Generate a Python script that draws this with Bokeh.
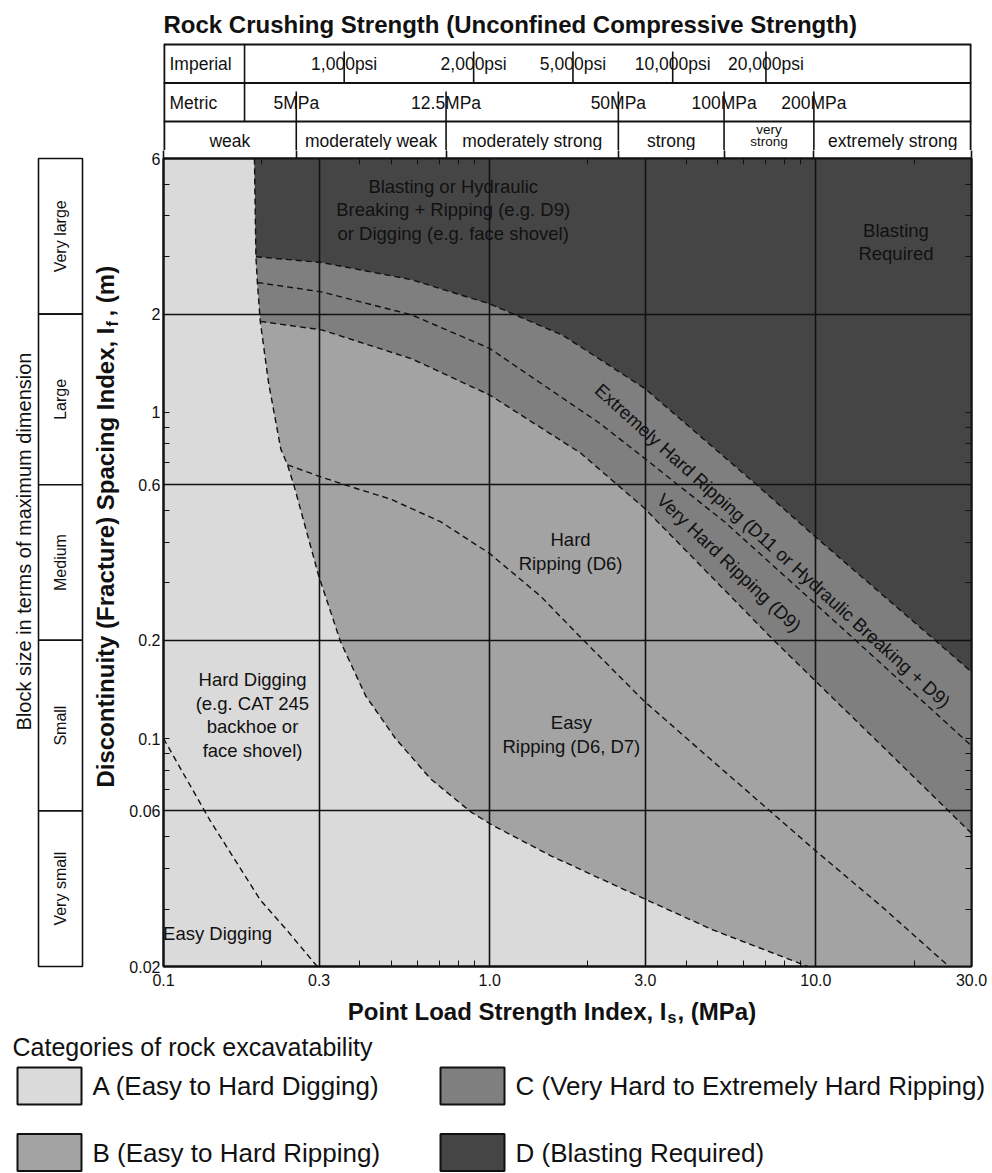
import math
from bokeh.plotting import figure
from bokeh.models import Range1d, FixedTicker, LogAxis, Spacer, LinearScale
from bokeh.layouts import column, row
from bokeh.embed import file_html
from bokeh.resources import INLINE
from bokeh.core.properties import value

# ---------------- data ----------------
x_ticks = [0.1, 0.3, 1.0, 3.0, 10.0, 30.0]
x_tick_labels = ["0.1", "0.3", "1.0", "3.0", "10.0", "30.0"]
x_minor = [0.2, 0.4, 0.5, 0.6, 0.7, 0.8, 0.9, 2.0, 4.0, 5.0, 6.0, 7.0, 8.0, 9.0, 20.0]
x_grid = [0.3, 1.0, 3.0, 10.0]

y_ticks = [6.0, 2.0, 1.0, 0.6, 0.2, 0.1, 0.06, 0.02]
y_tick_labels = ["6", "2", "1", "0.6", "0.2", "0.1", "0.06", "0.02"]
y_minor = [5.0, 4.0, 3.0, 0.9, 0.8, 0.7, 0.5, 0.4, 0.3, 0.09, 0.08, 0.07, 0.05, 0.04, 0.03]
y_grid = [2.0, 0.6, 0.2, 0.06]

# rock crushing strength scale, positions read on the Is axis
imperial_labels = ["1,000psi", "2,000psi", "5,000psi", "10,000psi", "20,000psi"]
imperial_is = [0.358, 0.893, 1.80, 3.64, 7.03]
metric_labels = ["5MPa", "12.5MPa", "50MPa", "100MPa", "200MPa"]
metric_is = [0.2553, 0.735, 2.48, 5.23, 9.86]
unit_split_is = 0.1772
strength_classes = ["weak", "moderately weak", "moderately strong", "strong",
                    "very\nstrong", "extremely strong"]

block_labels = ["Very large", "Large", "Medium", "Small", "Very small"]
block_edges = [6.0, 2.0, 0.6, 0.2, 0.06, 0.02]

# zone boundaries (Is, If)
ab_is = [0.19, 0.192, 0.194, 0.198, 0.21, 0.229, 0.24, 0.252, 0.299, 0.349, 0.4165, 0.515,
         0.659, 0.8745, 1.014, 1.539, 3.03, 4.83, 9.45]
ab_if = [6.0, 3.0, 2.5, 1.9, 1.23, 0.77, 0.69, 0.59, 0.3155, 0.198, 0.1352, 0.0998,
         0.0752, 0.0596, 0.0544, 0.0437, 0.032, 0.0259, 0.02]
dc_is = [0.192, 0.305, 0.576, 1.0, 1.68, 3.0, 6.45, 10.0, 23.2, 30.0]
dc_if = [3.0, 2.88, 2.55, 2.15, 1.72, 1.18, 0.61, 0.414, 0.2, 0.16]
mc_is = [0.194, 0.305, 0.576, 1.0, 2.16, 3.0, 5.27, 9.83, 30.0]
mc_if = [2.5, 2.34, 1.99, 1.57, 0.93, 0.72, 0.46, 0.262, 0.095]
cb_is = [0.198, 0.305, 0.576, 1.0, 1.9, 2.97, 7.43, 30.0]
cb_if = [1.9, 1.79, 1.46, 1.13, 0.75, 0.51, 0.2, 0.0512]
bb_is = [0.24, 0.305, 0.388, 0.497, 0.707, 1.0, 1.433, 1.902, 2.968, 4.439, 10.0, 15.82, 25.6]
bb_if = [0.69, 0.633, 0.585, 0.542, 0.462, 0.369, 0.273, 0.204, 0.1305, 0.0917, 0.0452, 0.0307, 0.02]
ed_is = [0.1, 0.139, 0.198, 0.24, 0.296]
ed_if = [0.1, 0.056, 0.032, 0.0257, 0.02]

zone_text = ["Blasting or Hydraulic\nBreaking + Ripping (e.g. D9)\nor Digging (e.g. face shovel)",
             "Blasting\nRequired", "Hard\nRipping (D6)", "Easy\nRipping (D6, D7)",
             "Hard Digging\n(e.g. CAT 245\nbackhoe or\nface shovel)", "Easy Digging"]
zone_is = [0.773, 17.6, 1.77, 1.78, 0.1875, 0.1465]
zone_if = [4.18, 3.33, 0.374, 0.103, 0.118, 0.0253]
band_text = ["Extremely Hard Ripping (D11 or Hydraulic Breaking + D9)", "Very Hard Ripping (D9)"]
band_is = [7.37, 5.42]
band_if = [0.390, 0.346]
band_angle = [-42.2, -43.6]

categories = ["A (Easy to Hard Digging)", "B (Easy to Hard Ripping)",
              "C (Very Hard to Extremely Hard Ripping)", "D (Blasting Required)"]

# ---------------- style ----------------
FONT = "Liberation Sans"
INK = "#111111"
FILL = ["#dadada", "#a3a3a3", "#7f7f7f", "#454545"]
FRAME = 808
x_min, x_max = x_ticks[0], x_ticks[-1]
y_min, y_max = y_ticks[-1], y_ticks[0]

# ---------------- main plot ----------------
p = figure(width=866, height=846, x_axis_type="log", y_axis_type="log",
           x_range=Range1d(x_min, x_max), y_range=Range1d(y_min, y_max),
           min_border_left=37, min_border_right=21, min_border_top=8, min_border_bottom=30,
           toolbar_location=None, output_backend="svg",
           background_fill_color=FILL[0], border_fill_color="white",
           outline_line_color=INK, outline_line_width=2)

k_cb = ab_is.index(cb_is[0])
k_dc = ab_is.index(dc_is[0])
p.patch(ab_is + [x_max, x_max], ab_if + [y_min, y_max], fill_color=FILL[1], line_color=None)
p.patch(ab_is[:k_cb] + cb_is + [x_max], ab_if[:k_cb] + cb_if + [y_max], fill_color=FILL[2], line_color=None)
p.patch(ab_is[:k_dc] + dc_is + [x_max], ab_if[:k_dc] + dc_if + [y_max], fill_color=FILL[3], line_color=None)

for xs, ys in [(ab_is, ab_if), (dc_is, dc_if), (mc_is, mc_if), (cb_is, cb_if), (bb_is, bb_if), (ed_is, ed_if)]:
    p.line(xs, ys, line_color=INK, line_width=1.4, line_dash="6 4", line_join="round")

p.text(x=zone_is, y=zone_if, text=zone_text, text_align="center", text_baseline="middle",
       text_font=value(FONT), text_font_size="18.5px", text_line_height=1.12, text_color=INK)
p.text(x=band_is, y=band_if, text=band_text, angle=[math.radians(a) for a in band_angle],
       text_align="center", text_baseline="middle",
       text_font=value(FONT), text_font_size="18.5px", text_color=INK)

for g, ticks in ((p.xgrid, x_grid), (p.ygrid, y_grid)):
    g.ticker = FixedTicker(ticks=ticks)
    g.grid_line_color = INK
    g.grid_line_width = 1.6
    g.level = "guide"

xa = p.xaxis[0]
xa.ticker = FixedTicker(ticks=x_ticks, minor_ticks=x_minor)
xa.major_label_overrides = dict(zip(x_ticks, x_tick_labels))
ya = p.yaxis[0]
ya.ticker = FixedTicker(ticks=y_ticks, minor_ticks=y_minor)
ya.major_label_overrides = dict(zip(y_ticks, y_tick_labels))
for ax, standoff in ((xa, 7), (ya, 3)):
    ax.major_tick_in = 6
    ax.major_tick_out = 0
    ax.minor_tick_in = 6
    ax.minor_tick_out = 0
    ax.major_label_standoff = standoff
    ax.major_label_text_font = FONT
    ax.major_label_text_font_size = "16px"
    ax.major_label_text_color = INK
    ax.axis_line_width = 2
    ax.axis_line_color = INK
    ax.major_tick_line_color = INK
    ax.minor_tick_line_color = INK

# top axis: inside minor ticks + lower ends of the strength-class separators
top_ticks = [x_min] + metric_is + [x_max]
top_ax = LogAxis(ticker=FixedTicker(ticks=top_ticks, minor_ticks=x_minor),
                 major_label_overrides={t: "" for t in top_ticks},
                 major_label_text_font_size="0px", major_label_standoff=0,
                 major_tick_in=0, major_tick_out=8, minor_tick_in=6, minor_tick_out=0,
                 major_tick_line_width=1.6, axis_line_width=2,
                 axis_line_color=INK, major_tick_line_color=INK, minor_tick_line_color=INK)
p.add_layout(top_ax, "above")
right_major = [v for v in y_ticks[1:-1] if v not in y_grid]
right_ax = LogAxis(ticker=FixedTicker(ticks=right_major, minor_ticks=y_minor),
                   major_label_overrides={t: "" for t in right_major},
                   major_label_text_font_size="0px", major_label_standoff=0,
                   major_tick_in=6, major_tick_out=0, minor_tick_in=6, minor_tick_out=0,
                   axis_line_width=2, axis_line_color=INK,
                   major_tick_line_color=INK, minor_tick_line_color=INK)
p.add_layout(right_ax, "right")

# ---------------- strength table (above) ----------------
t = figure(width=866, height=150, x_axis_type="log", x_range=p.x_range, y_range=Range1d(150, 0),
           x_axis_location=None, y_axis_location=None,
           min_border_left=37, min_border_right=21, min_border_top=0, min_border_bottom=0,
           toolbar_location=None, output_backend="svg", outline_line_color=None)
t.grid.visible = False
row_top, row1, row2, row_bot = 44, 82.5, 121, 150
t.segment(x0=[x_min] * 3, y0=[row_top, row1, row2], x1=[x_max] * 3, y1=[row_top, row1, row2],
          line_color=INK, line_width=1.8)
t.segment(x0=[x_min, x_max], y0=[row_top, row_top], x1=[x_min, x_max], y1=[row_bot, row_bot],
          line_color=INK, line_width=3.6)
t.segment(x0=[unit_split_is], y0=[row_top], x1=[unit_split_is], y1=[row2], line_color=INK, line_width=1.6)
t.segment(x0=imperial_is, y0=[51] * len(imperial_is), x1=imperial_is, y1=[row1] * len(imperial_is),
          line_color=INK, line_width=1.6)
t.segment(x0=metric_is, y0=[91] * len(metric_is), x1=metric_is, y1=[row_bot] * len(metric_is),
          line_color=INK, line_width=1.6)
tk = dict(text_font=value(FONT), text_color=INK, text_baseline="middle")
t.text(x=[x_min], y=[24], text=["Rock Crushing Strength (Unconfined Compressive Strength)"],
       text_align="left", text_font_size="24px", text_font_style="bold", **tk)
t.text(x=[x_min, x_min], y=[63, 102], text=["Imperial", "Metric"], x_offset=6,
       text_align="left", text_font_size="17.5px", **tk)
t.text(x=imperial_is, y=[63] * len(imperial_is), text=imperial_labels, text_align="center",
       text_font_size="17.5px", **tk)
t.text(x=metric_is, y=[102] * len(metric_is), text=metric_labels, text_align="center",
       text_font_size="17.5px", **tk)
edges = [x_min] + metric_is + [x_max]
mids = [math.sqrt(a * b) for a, b in zip(edges[:-1], edges[1:])]
one = [i for i, s in enumerate(strength_classes) if "\n" not in s]
two = [i for i, s in enumerate(strength_classes) if "\n" in s]
t.text(x=[mids[i] for i in one], y=[140] * len(one), text=[strength_classes[i] for i in one],
       text_align="center", text_font_size="17.5px", **tk)
t.text(x=[mids[i] for i in two], y=[134.5] * len(two), text=[strength_classes[i] for i in two],
       text_align="center", text_font_size="13.5px", text_line_height=0.8, **tk)

# ---------------- block-size column (left) ----------------
pad = 4
ext = 10 ** (pad * math.log10(y_max / y_min) / FRAME)
l = figure(width=126, height=842, y_axis_type="log", x_axis_type=None,
           x_range=Range1d(0, 126), y_range=Range1d(y_min / ext, y_max * ext),
           x_axis_location=None, y_axis_location=None,
           min_border_left=0, min_border_right=0, min_border_top=0, min_border_bottom=26,
           toolbar_location=None, output_backend="svg", outline_line_color=None)
l.grid.visible = False
l.extra_y_ranges = {"img": Range1d(start=970, end=154)}
l.extra_y_scales = {"img": LinearScale()}
nb = len(block_labels)
l.quad(left=[38] * nb, right=[82] * nb, top=block_edges[:-1], bottom=block_edges[1:],
       fill_color="white", line_color=INK, line_width=1.6)
l.text(x=[60] * nb, y=[math.sqrt(a * b) for a, b in zip(block_edges[:-1], block_edges[1:])],
       text=block_labels, angle=math.pi / 2, text_align="center", text_baseline="middle",
       text_font=value(FONT), text_font_size="16px", text_color=INK)
l.text(x=[23], y=[541], y_range_name="img", text=["Block size in terms of maximum dimension"],
       angle=math.pi / 2, text_align="center", text_baseline="middle",
       text_font=value(FONT), text_font_size="20px", text_color=INK)
yp = 327
l.text(x=[105], y=[yp], y_range_name="img", text=["Discontinuity (Fracture) Spacing Index, I"],
       angle=math.pi / 2, text_align="right", text_baseline="middle",
       text_font=value(FONT), text_font_size="24px", text_font_style="bold", text_color=INK)
l.text(x=[112], y=[yp - 1], y_range_name="img", text=["f"],
       angle=math.pi / 2, text_align="left", text_baseline="middle",
       text_font=value(FONT), text_font_size="16px", text_font_style="bold", text_color=INK)
l.text(x=[105], y=[yp - 11], y_range_name="img", text=[", (m)"],
       angle=math.pi / 2, text_align="left", text_baseline="middle",
       text_font=value(FONT), text_font_size="24px", text_font_style="bold", text_color=INK)

# ---------------- x title + legend (below) ----------------
lg = figure(width=992, height=176, x_range=Range1d(0, 992), y_range=Range1d(1172, 996),
            x_axis_type=None, y_axis_type=None, min_border=0,
            toolbar_location=None, output_backend="svg", outline_line_color=None)
lg.grid.visible = False
xp = 666
lk = dict(text_font=value(FONT), text_color=INK, text_baseline="middle")
lg.text(x=[xp], y=[1011], text=["Point Load Strength Index, I"], text_align="right",
        text_font_size="24px", text_font_style="bold", **lk)
lg.text(x=[xp + 1], y=[1017], text=["s"], text_align="left",
        text_font_size="16px", text_font_style="bold", **lk)
lg.text(x=[xp + 11], y=[1011], text=[", (MPa)"], text_align="left",
        text_font_size="24px", text_font_style="bold", **lk)
lg.text(x=[12], y=[1046], text=["Categories of rock excavatability"], text_align="left",
        text_font_size="25px", **lk)
box_left = [17, 17, 440, 440]
box_w, box_h = 64, 37
row_y = [1085.5, 1152]
rows = [row_y[0], row_y[1], row_y[0], row_y[1]]
lg.quad(left=box_left, right=[b + box_w for b in box_left],
        top=[y - box_h / 2 for y in rows], bottom=[y + box_h / 2 for y in rows],
        fill_color=FILL, line_color=INK, line_width=2)
lg.text(x=[b + box_w + 11 for b in box_left], y=rows, text=categories, text_align="left",
        text_font_size="26px", **lk)

root = column(row(column(Spacer(width=126, height=154), l), column(t, p)), lg)
open("out.html", "w").write(file_html(root, INLINE, "Rock excavatability"))
